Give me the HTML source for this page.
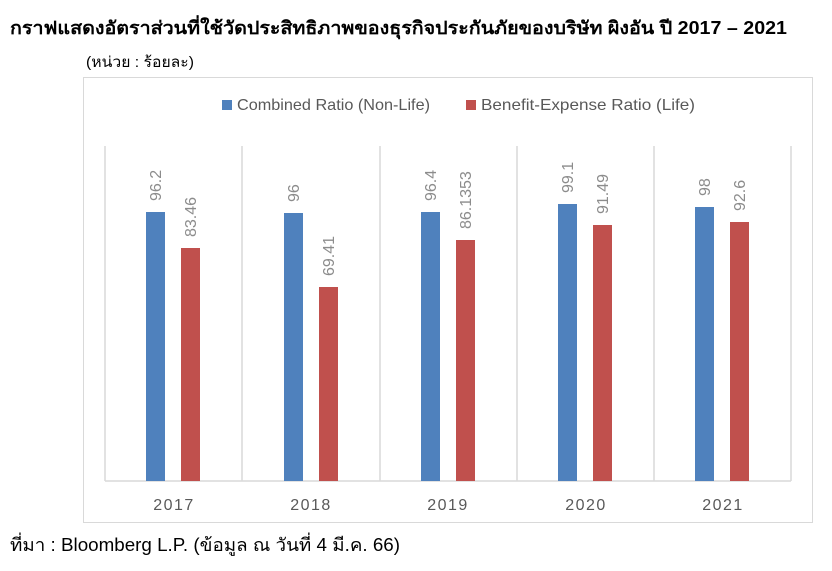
<!DOCTYPE html>
<html><head><meta charset="utf-8"><style>
body{margin:0;background:#fff;width:832px;height:566px;overflow:hidden;font-family:"Liberation Sans","Noto Sans CJK SC",sans-serif;}
</style></head><body>
<svg width="832" height="566" xmlns="http://www.w3.org/2000/svg" font-family="Liberation Sans, Noto Sans CJK SC, sans-serif">
<text x="10" y="34" font-size="18" font-weight="bold" fill="#000" textLength="777" lengthAdjust="spacingAndGlyphs">กราฟแสดงอัตราส่วนที่ใช้วัดประสิทธิภาพของธุรกิจประกันภัยของบริษัท ผิงอัน ปี 2017 – 2021</text>
<text x="86" y="67" font-size="15" fill="#000" textLength="108" lengthAdjust="spacingAndGlyphs">(หน่วย : ร้อยละ)</text>
<rect x="83.5" y="77.5" width="729" height="445" fill="#fff" stroke="#d9d9d9"/>
<rect x="222" y="100" width="10" height="10" fill="#4f81bd"/>
<text x="237" y="110" font-size="16" fill="#595959" textLength="193" lengthAdjust="spacingAndGlyphs">Combined Ratio (Non-Life)</text>
<rect x="466" y="100" width="10" height="10" fill="#c0504d"/>
<text x="481" y="110" font-size="16" fill="#595959" textLength="214" lengthAdjust="spacingAndGlyphs">Benefit-Expense Ratio (Life)</text>
<g stroke="#d9d9d9" stroke-width="1.5">
<line x1="105" y1="146" x2="105" y2="481"/><line x1="242" y1="146" x2="242" y2="481"/><line x1="380" y1="146" x2="380" y2="481"/><line x1="517" y1="146" x2="517" y2="481"/><line x1="654" y1="146" x2="654" y2="481"/><line x1="791" y1="146" x2="791" y2="481"/>
<line x1="105" y1="481" x2="791" y2="481"/>
</g>
<g font-size="16" fill="#8c8c8c">
<rect x="146" y="212" width="19" height="269" fill="#4f81bd"/>
<rect x="181" y="248" width="19" height="233" fill="#c0504d"/>
<rect x="284" y="213" width="19" height="268" fill="#4f81bd"/>
<rect x="319" y="287" width="19" height="194" fill="#c0504d"/>
<rect x="421" y="212" width="19" height="269" fill="#4f81bd"/>
<rect x="456" y="240" width="19" height="241" fill="#c0504d"/>
<rect x="558" y="204" width="19" height="277" fill="#4f81bd"/>
<rect x="593" y="225" width="19" height="256" fill="#c0504d"/>
<rect x="695" y="207" width="19" height="274" fill="#4f81bd"/>
<rect x="730" y="222" width="19" height="259" fill="#c0504d"/>
<text transform="translate(161,201) rotate(-90)">96.2</text>
<text transform="translate(196,237) rotate(-90)">83.46</text>
<text transform="translate(299,202) rotate(-90)">96</text>
<text transform="translate(334,276) rotate(-90)">69.41</text>
<text transform="translate(436,201) rotate(-90)">96.4</text>
<text transform="translate(471,229) rotate(-90)">86.1353</text>
<text transform="translate(573,193) rotate(-90)">99.1</text>
<text transform="translate(608,214) rotate(-90)">91.49</text>
<text transform="translate(710,196) rotate(-90)">98</text>
<text transform="translate(745,211) rotate(-90)">92.6</text>
</g>
<g font-size="16" fill="#595959" text-anchor="middle" letter-spacing="1.5">
<text x="174" y="510">2017</text><text x="311" y="510">2018</text><text x="448" y="510">2019</text><text x="586" y="510">2020</text><text x="723" y="510">2021</text>
</g>
<text x="10" y="551" font-size="18" fill="#000" textLength="390" lengthAdjust="spacingAndGlyphs">ที่มา : Bloomberg L.P. (ข้อมูล ณ วันที่ 4 มี.ค. 66)</text>
</svg>
</body></html>
